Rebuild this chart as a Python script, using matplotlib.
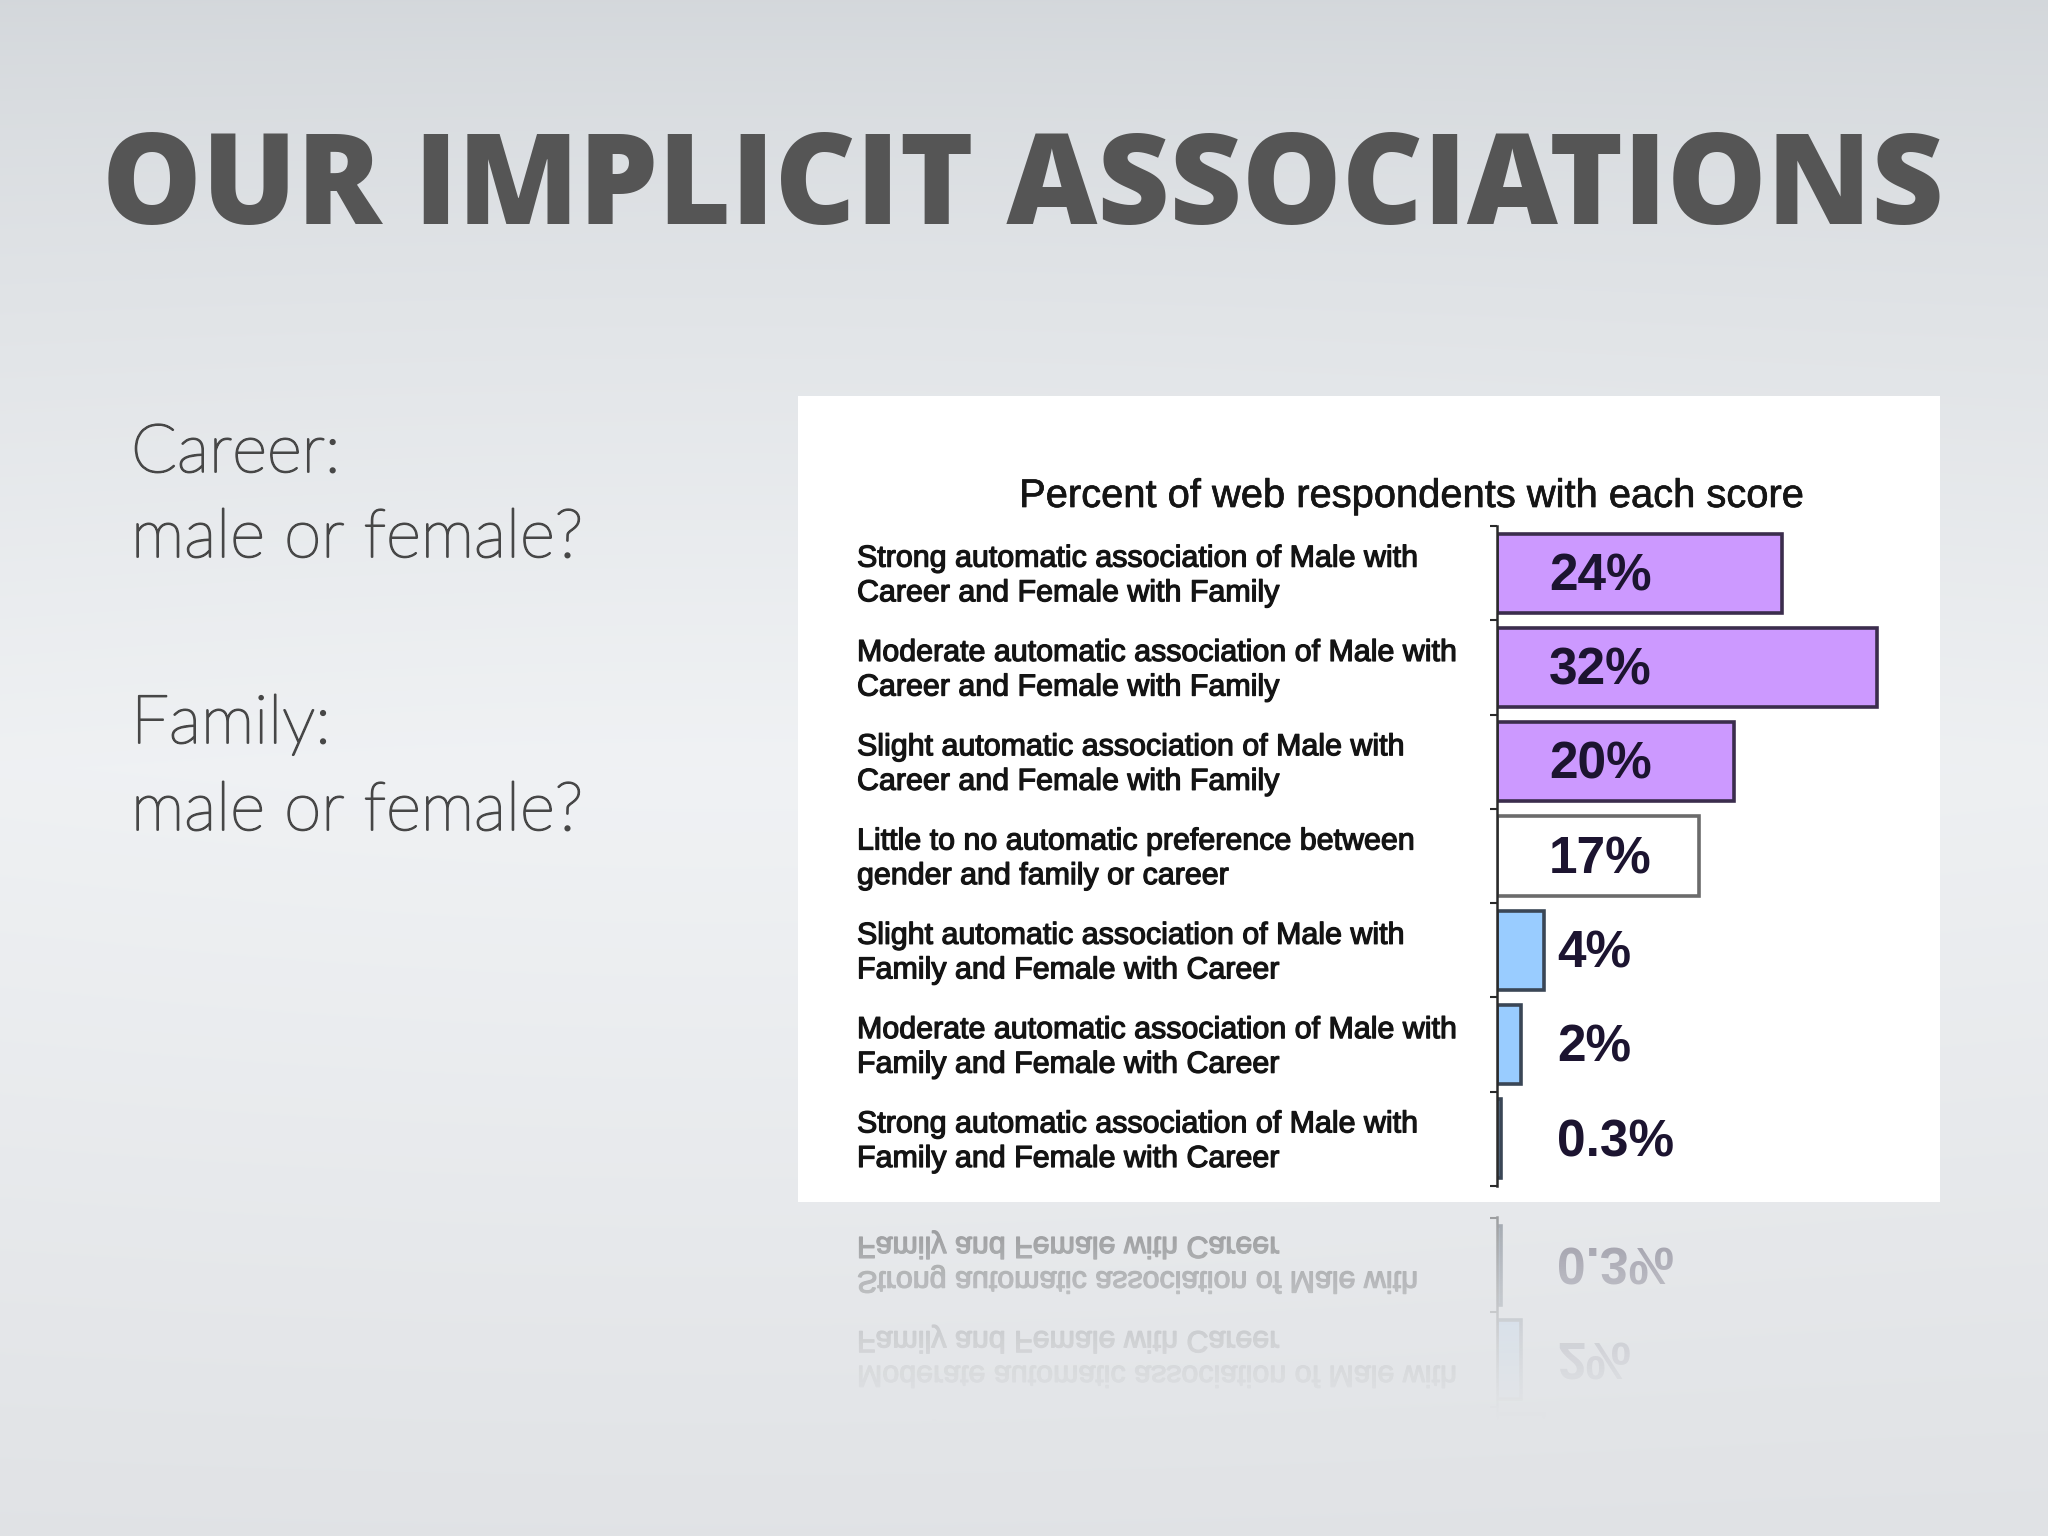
import numpy as np
import matplotlib
matplotlib.use("Agg")
import matplotlib.pyplot as plt
from matplotlib.patches import Rectangle
from matplotlib.transforms import blended_transform_factory
import matplotlib.patheffects as pe

# ---------------- data ----------------
title = "OUR IMPLICIT ASSOCIATIONS"
side_lines = ["Career:", "male or female?", "Family:", "male or female?"]
chart_title = "Percent of web respondents with each score"
categories = [
    "Strong automatic association of Male with\nCareer and Female with Family",
    "Moderate automatic association of Male with\nCareer and Female with Family",
    "Slight automatic association of Male with\nCareer and Female with Family",
    "Little to no automatic preference between\ngender and family or career",
    "Slight automatic association of Male with\nFamily and Female with Career",
    "Moderate automatic association of Male with\nFamily and Female with Career",
    "Strong automatic association of Male with\nFamily and Female with Career",
]
percent = [24, 32, 20, 17, 4, 2, 0.3]
value_labels = ["24%", "32%", "20%", "17%", "4%", "2%", "0.3%"]
bar_colors = ["#cc99ff", "#cc99ff", "#cc99ff", "#ffffff", "#99ccff", "#99ccff", "#99ccff"]
edge_colors = ["#3b2d4d", "#3b2d4d", "#3b2d4d", "#6b6b6b", "#3a4656", "#3a4656", "#3a4656"]

# ---------------- layout helpers ----------------
W, H, DPI = 2048, 1536, 100
fx = lambda x: x / W
fy = lambda y: 1 - y / H

fig = plt.figure(figsize=(W / DPI, H / DPI), dpi=DPI)

# background gradient
yy = np.linspace(0, 1, H)[:, None]
xx = np.linspace(0, 1, W)[None, :]
top = np.array([0.828, 0.843, 0.858])
mid = np.array([0.928, 0.936, 0.945])
bot = np.array([0.878, 0.886, 0.898])
t1 = np.clip(yy / 0.5, 0, 1)
t2 = np.clip((yy - 0.5) / 0.5, 0, 1)
s1 = t1 ** 0.8
bg = np.where(yy[..., None] < 0.5,
              top * (1 - s1[..., None]) + mid * s1[..., None],
              mid * (1 - t2[..., None]) + bot * t2[..., None])
bg = np.broadcast_to(bg, (H, W, 3)).copy()
rad = np.exp(-(((xx - 0.35) / 0.6) ** 2 + ((yy - 0.5) / 0.45) ** 2))
bg = np.clip(bg + 0.012 * rad[..., None], 0, 1)
ax_bg = fig.add_axes([0, 0, 1, 1], zorder=-10)
ax_bg.imshow(bg, aspect="auto", extent=[0, 1, 0, 1], interpolation="bilinear")
ax_bg.set_axis_off()

renderer = fig.canvas.get_renderer()

def fit(t, target_w):
    w = t.get_window_extent(renderer).width
    t.set_fontsize(t.get_fontsize() * target_w / w)
    return t.get_fontsize()

# slide title
t_title = fig.text(fx(102), fy(224), title, fontsize=80, fontweight=800,
                   family="Open Sans", color="#555555", va="baseline", ha="left")
fit(t_title, 1844)

# left-hand text
side_y = [472, 557, 743, 830]
side_texts = []
for s, y in zip(side_lines, side_y):
    side_texts.append(fig.text(fx(131), fy(y), s, fontsize=50, fontweight="light",
                               family="Lato", color="#474747", va="baseline", ha="left",
                               path_effects=[pe.withStroke(linewidth=1.3, foreground="#474747")]))
fs_side = fit(side_texts[1], 452)
for t in side_texts:
    t.set_fontsize(fs_side)

# white chart panel
fig.patches.append(Rectangle((fx(798), fy(1202)), (1940 - 798) / W, (1202 - 396) / H,
                             transform=fig.transFigure, facecolor="white",
                             edgecolor="none", zorder=-5))

# chart title
t_ct = fig.text(fx(1412), fy(496), chart_title, fontsize=26, family="Liberation Sans",
                color="#151515", ha="center", va="center",
                path_effects=[pe.withStroke(linewidth=0.5, foreground="#151515")])
fit(t_ct, 784)

# bar chart axes
ax = fig.add_axes([fx(1497), fy(1186), 427 / W, 660 / H], zorder=1)
ax.patch.set_alpha(0)
ypos = np.arange(len(categories))
ax.barh(ypos, percent, height=0.84, color=bar_colors, edgecolor=edge_colors, linewidth=2.6)
ax.set_xlim(0, 36)
ax.set_ylim(len(categories) - 0.5, -0.5)
for s in ["top", "right", "bottom"]:
    ax.spines[s].set_visible(False)
ax.spines["left"].set_color("#2a2a2a")
ax.spines["left"].set_linewidth(1.8)
ax.set_xticks([])
ax.set_yticks(np.arange(-0.5, len(categories), 1.0))
ax.set_yticklabels([])
ax.tick_params(axis="y", length=5, width=1.5, color="#2a2a2a", direction="out")

trans = blended_transform_factory(fig.transFigure, ax.transData)
cat_texts = []
for i, c in enumerate(categories):
    cat_texts.append(ax.text(fx(857), i + 0.03, c, transform=trans, ha="left", va="center",
                             fontsize=21, family="Liberation Sans", color="#141414",
                             linespacing=1.3,
                             path_effects=[pe.withStroke(linewidth=0.9, foreground="#141414")]))
fs_cat = fit(cat_texts[1], 600)
for t in cat_texts:
    t.set_fontsize(fs_cat)

for i, (v, lab) in enumerate(zip(percent, value_labels)):
    xl = 4.4 if v > 10 else 5.1
    ax.text(xl, i + 0.04, lab, ha="left", va="center", fontsize=37, fontweight="bold",
            family="Liberation Sans", color="#1c1430")

# ---------------- reflection below the panel ----------------
fig.canvas.draw()
buf = np.asarray(fig.canvas.buffer_rgba()).astype(float) / 255.0
hh = 230
crop = buf[1200 - hh:1200, 800:1938, :3][::-1]
alpha = 1 - crop.min(axis=2)
safe = np.where(alpha > 1e-3, alpha, 1)
col = np.clip((crop - (1 - alpha[..., None])) / safe[..., None], 0, 1)
tt = np.linspace(0, 1, hh)[:, None]
fade = 0.42 * (1 - tt) ** 1.6
refl = np.dstack([col, np.clip(alpha * fade, 0, 1)])
fig.figimage(refl, xo=800, yo=H - 1204 - hh, origin="upper", zorder=-4)

fig.savefig("out.png", dpi=DPI)
